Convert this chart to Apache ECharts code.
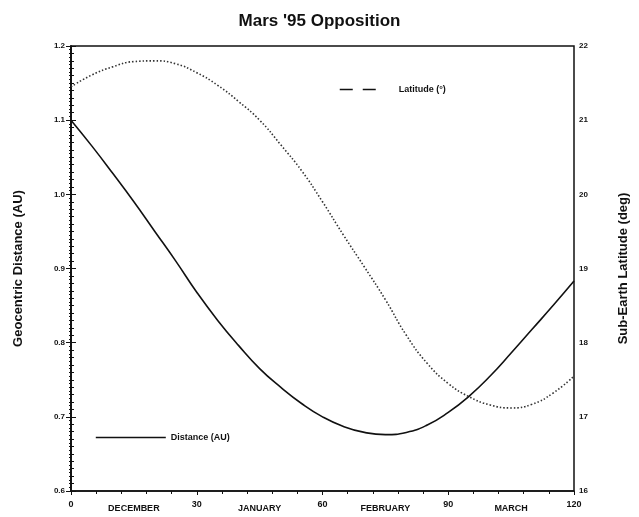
<!DOCTYPE html>
<html>
<head>
<meta charset="utf-8">
<script src="https://cdn.jsdelivr.net/npm/echarts@6/dist/echarts.min.js"></script>
<style>
  html, body { margin: 0; padding: 0; background: #fff; }
  #main { width: 639px; height: 517px; }
</style>
</head>
<body>
<div id="main"></div>
<script>
// days since Dec 1, 1994
var days = [0, 5, 10, 15, 20, 25, 30, 35, 40, 45, 50, 55, 60, 65, 70, 75, 80, 85, 90, 95, 100, 105, 110, 115, 120];
// geocentric distance (AU)
var distance = [1.100, 1.065, 1.028, 0.990, 0.950, 0.910, 0.868, 0.830, 0.796, 0.765, 0.740, 0.718, 0.700,
  0.687, 0.679, 0.676, 0.679, 0.689, 0.706, 0.728, 0.755, 0.786, 0.818, 0.850, 0.883];
// sub-earth latitude (deg)
var latitude = [21.45, 21.61, 21.72, 21.79, 21.80, 21.76, 21.64, 21.47, 21.25, 21.00, 20.67, 20.32, 19.90,
  19.45, 19.02, 18.58, 18.10, 17.72, 17.45, 17.27, 17.16, 17.12, 17.17, 17.32, 17.55];
var monthTicks = [15, 45, 75, 105];
var monthNames = ['DECEMBER', 'JANUARY', 'FEBRUARY', 'MARCH'];

var ink = '#111';
var font = '"Liberation Sans", Arial, sans-serif';

var myChart = echarts.init(document.getElementById('main'));

var distData = days.map(function (d, i) { return [d, distance[i]]; });
var latData = days.map(function (d, i) { return [d, latitude[i]]; });

var option = {
  backgroundColor: '#fff',
  animation: false,
  textStyle: { fontFamily: font, color: ink },
  title: {
    text: "Mars '95 Opposition",
    left: 'center',
    top: 8,
    textStyle: { fontSize: 17, fontWeight: 'bold', color: ink, fontFamily: font }
  },
  legend: [
    {
      data: [{
        name: 'Latitude (°)',
        itemStyle: { opacity: 0 },
        lineStyle: { type: [13, 10], width: 1.5, color: ink }
      }],
      left: 334,
      top: 80,
      itemWidth: 40,
      itemHeight: 10,
      itemGap: 8,
      textStyle: { fontSize: 9, fontWeight: 'bold', color: ink, fontFamily: font, padding: [0, 0, 0, 14] }
    },
    {
      data: [{
        name: 'Distance (AU)',
        itemStyle: { opacity: 0 },
        lineStyle: { type: 'solid', width: 1.6, color: ink }
      }],
      left: 90,
      top: 428,
      itemWidth: 70,
      itemHeight: 10,
      itemGap: 8,
      textStyle: { fontSize: 9, fontWeight: 'bold', color: ink, fontFamily: font }
    }
  ],
  grid: {
    left: 71, right: 65, top: 46, bottom: 26,
    show: true, borderColor: ink, borderWidth: 1.5
  },
  xAxis: [
    {
      type: 'value',
      min: 0, max: 120, interval: 30,
      axisLine: { show: true, lineStyle: { color: ink, width: 1.5 } },
      axisTick: { show: true, length: 4, lineStyle: { color: ink } },
      minorTick: { show: true, splitNumber: 5, length: 3, lineStyle: { color: ink } },
      splitLine: { show: false },
      axisLabel: { fontSize: 9, fontWeight: 'bold', color: ink, margin: 9 }
    },
    {
      type: 'value',
      position: 'bottom',
      min: 0, max: 120, interval: 15,
      axisLine: { show: false },
      axisTick: { show: false },
      splitLine: { show: false },
      axisLabel: {
        fontSize: 9, fontWeight: 'bold', color: ink, margin: 13,
        formatter: function (v) {
          var k = monthTicks.indexOf(v);
          return k >= 0 ? monthNames[k] : '';
        }
      }
    }
  ],
  yAxis: [
    {
      type: 'value',
      min: 0.6, max: 1.2, interval: 0.1,
      name: 'Geocentric Distance (AU)',
      nameLocation: 'middle',
      nameGap: 46,
      nameTextStyle: { fontSize: 13, fontWeight: 'bold', color: ink, fontFamily: font },
      axisLine: { show: true, lineStyle: { color: ink, width: 1.5 } },
      axisTick: { show: true, length: 5, lineStyle: { color: ink } },
      minorTick: { show: true, splitNumber: 20, length: 2, lineStyle: { color: ink } },
      splitLine: { show: false },
      axisLabel: {
        fontSize: 8, fontWeight: 'bold', color: ink, margin: 6,
        formatter: function (v) { return v.toFixed(1); }
      }
    },
    {
      type: 'value',
      min: 16, max: 22, interval: 1,
      position: 'right',
      name: 'Sub-Earth Latitude (deg)',
      nameLocation: 'middle',
      nameGap: 43,
      nameRotate: 90,
      nameTextStyle: { fontSize: 13, fontWeight: 'bold', color: ink, fontFamily: font },
      axisLine: { show: true, lineStyle: { color: ink, width: 1.5 } },
      axisTick: { show: true, length: 5, lineStyle: { color: ink } },
      minorTick: { show: true, splitNumber: 10, length: 3, lineStyle: { color: ink } },
      splitLine: { show: false },
      axisLabel: { fontSize: 8, fontWeight: 'bold', color: ink, margin: 5 }
    }
  ],
  series: [
    {
      name: 'Distance (AU)',
      type: 'line',
      xAxisIndex: 0,
      yAxisIndex: 0,
      smooth: true,
      symbol: 'none',
      lineStyle: { color: ink, width: 1.6, type: 'solid' },
      itemStyle: { color: ink },
      data: distData
    },
    {
      name: 'Latitude (°)',
      type: 'line',
      xAxisIndex: 0,
      yAxisIndex: 1,
      smooth: true,
      symbol: 'none',
      lineStyle: { color: '#333', width: 1.6, type: [1.5, 2] },
      itemStyle: { color: ink },
      data: latData
    }
  ]
};

myChart.setOption(option);
window.addEventListener('resize', function () {
  myChart.resize();
});
</script>
</body>
</html>
